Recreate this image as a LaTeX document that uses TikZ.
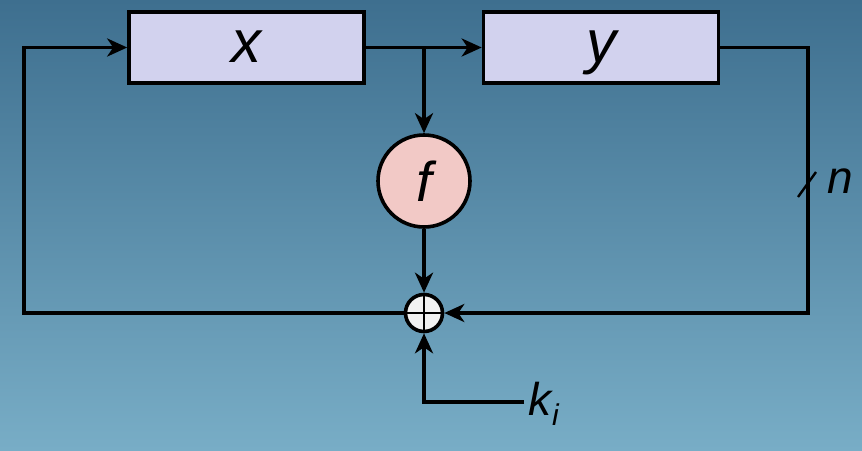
\documentclass[tikz,border=0pt]{standalone}
\usepackage{fontspec}
\setmainfont{Liberation Sans}
\usetikzlibrary{arrows.meta}
\definecolor{bgtop}{HTML}{3E6F8F}
\definecolor{bgbot}{HTML}{78ADC6}
\definecolor{boxfill}{HTML}{D2D2EE}
\definecolor{ffill}{HTML}{F2C9C6}
\definecolor{xorfill}{HTML}{F2F2F2}
\begin{document}
\begin{tikzpicture}[x=1pt,y=-1pt]
\tikzset{
  conn/.style={line width=3.6pt},
  arr/.style={conn, -{Stealth[length=20pt,width=18pt,inset=6pt]}},
  blockbox/.style={draw, line width=3.6pt, fill=boxfill, minimum width=235pt, minimum height=71pt, inner sep=0pt, text height=41pt, text depth=12pt, font=\itshape\fontsize{60}{62}\selectfont},
  fcirc/.style={draw, line width=3.6pt, circle, fill=ffill, minimum size=92pt, inner sep=0pt, font=\itshape\fontsize{56}{60}\selectfont},
  xorcirc/.style={draw, line width=3.6pt, circle, fill=xorfill, minimum size=37pt, inner sep=0pt},
  lbl/.style={font=\itshape\fontsize{46}{48}\selectfont, inner sep=0pt}}
\shade[top color=bgtop, bottom color=bgbot] (0,0) rectangle (862,450);
\useasboundingbox (0,0) rectangle (862,450);
\node[blockbox] (X) at (246.5,47.5) {x};
\node[blockbox] (Y) at (601,47.5) {y};
\node[fcirc] (F) at (424,181) {f};
\node[xorcirc] (XOR) at (424,313) {};
\draw[line width=2.8pt] (XOR.north) -- (XOR.south) (XOR.west) -- (XOR.east);
\coordinate (br) at (424,47.5);
\coordinate (lt) at (24,47.5);
\coordinate (lb) at (24,313);
\coordinate (rt) at (808,47.5);
\coordinate (rb) at (808,313);
\coordinate (kc) at (424,402);
\coordinate (ke) at (524,402);
\draw[arr] (X.east) -- (Y.west);
\draw[arr] (br) -- (F.north);
\draw[arr] (F.south) -- (XOR.north);
\draw[arr] (XOR.west) -- (lb) -- (lt) -- (X.west);
\draw[arr] (Y.east) -- (rt) -- (rb) -- (XOR.east);
\draw[arr] (ke) -- (kc) -- (XOR.south);
\draw[line width=2.4pt] (798,197) -- (816,172);
\node[lbl, anchor=west] (N) at (827,181) {n};
\node[lbl, anchor=west] (K) at (528,404) {k\kern1pt\raisebox{-10pt}{\fontsize{30}{32}\selectfont i}};
\end{tikzpicture}
\end{document}
